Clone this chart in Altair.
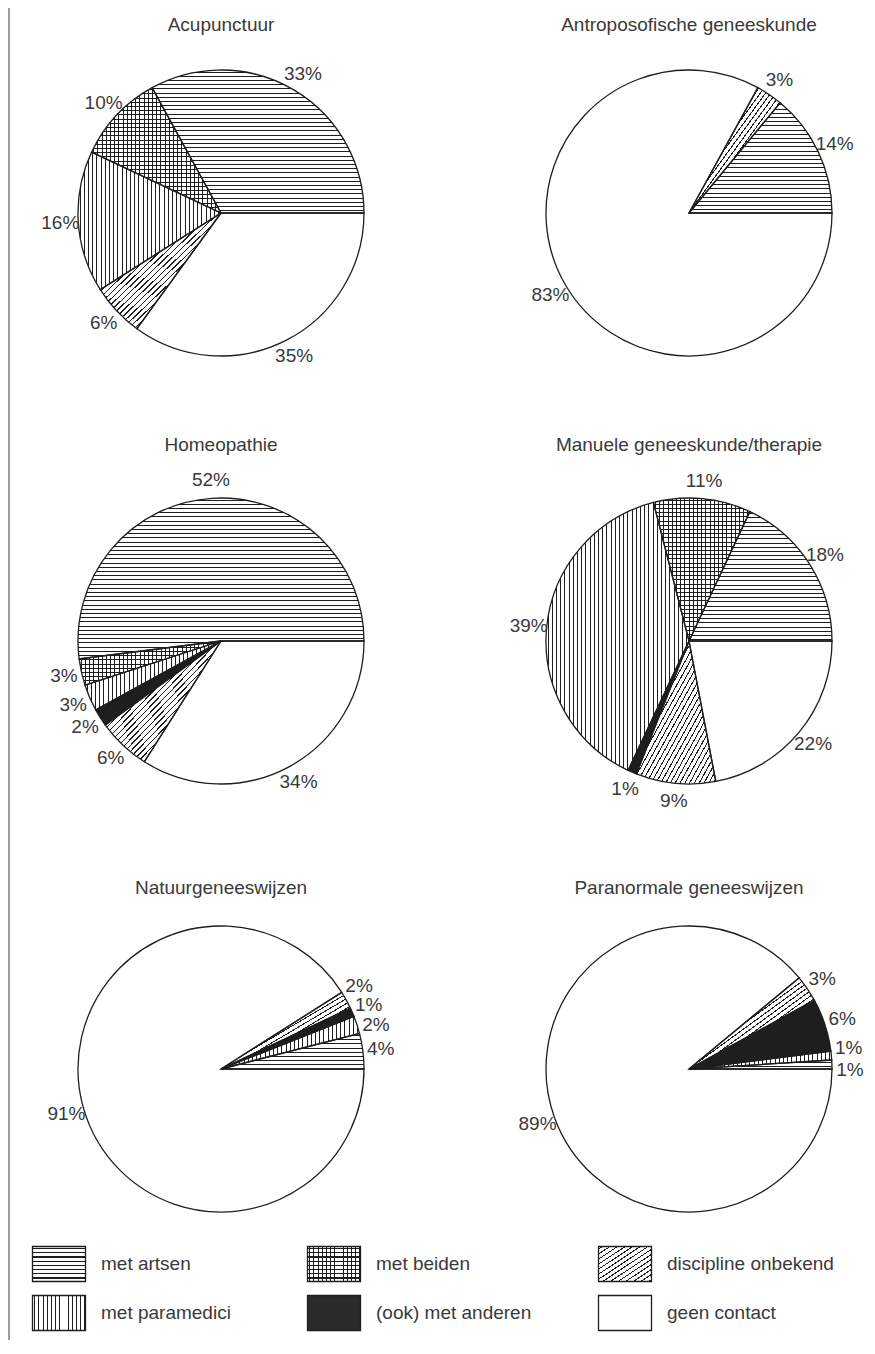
import math
import altair as alt
import pandas as pd

# ---------------- data ----------------
TITLES = ["Acupunctuur", "Antroposofische geneeskunde", "Homeopathie",
          "Manuele geneeskunde/therapie", "Natuurgeneeswijzen", "Paranormale geneeswijzen"]
CATEGORIES = ["met artsen", "met beiden", "met paramedici",
              "(ook) met anderen", "discipline onbekend", "geen contact"]
CAT_KEYS = ["artsen", "beiden", "paramedici", "anderen", "onbekend", "geen"]

ACUPUNCTUUR = [33, 10, 16, 0, 6, 35]
ANTROPOSOFISCHE = [14, 0, 0, 0, 3, 83]
HOMEOPATHIE = [52, 3, 3, 2, 6, 34]
MANUELE = [18, 11, 39, 1, 9, 22]
NATUUR = [4, 0, 2, 1, 2, 91]
PARANORMAAL = [1, 0, 1, 6, 3, 89]
ALL_VALUES = [ACUPUNCTUUR, ANTROPOSOFISCHE, HOMEOPATHIE, MANUELE, NATUUR, PARANORMAAL]

# grid cell of each pie and of each legend entry
GRID_COL = [0, 1, 0, 1, 0, 1]
GRID_ROW = [0, 0, 1, 1, 2, 2]
LEGEND_COL = [0, 1, 0, 1, 2, 2]
LEGEND_ROW = [0, 0, 1, 1, 0, 1]

# ---------------- style ----------------
FONT = "Liberation Sans"
TXT = "#3a3a3a"
INK = "#1e1e1e"
CLEAR = "rgba(255,255,255,0)"
R = 143
LABEL_R = 161
SPACING = 4.2
LW = 1.0
BOX_W, BOX_H = 53, 35
MIN_SEP = 2.1
W, H = 857, 1332

HATCH = {"h": ["artsen", "beiden"], "v": ["paramedici", "beiden"], "d": ["onbekend"]}


def stops(extent):
    extent = max(extent, 1.0)
    period = SPACING / extent
    half = (LW / extent) / 2
    out = [{"offset": 0, "color": CLEAR}]
    k = 0
    while True:
        c = (k + 0.5) * period
        a, b = c - half, c + half
        if a >= 1:
            break
        a = round(max(a, 0), 5)
        b = round(min(b, 1), 5)
        out += [{"offset": a, "color": CLEAR}, {"offset": a, "color": INK},
                {"offset": b, "color": INK}, {"offset": b, "color": CLEAR}]
        k += 1
    out.append({"offset": 1, "color": CLEAR})
    return out


def gradient(kind, w, h):
    if kind == "h":
        return {"gradient": "linear", "x1": 0, "y1": 0, "x2": 0, "y2": 1, "stops": stops(h)}
    if kind == "v":
        return {"gradient": "linear", "x1": 0, "y1": 0, "x2": 1, "y2": 0, "stops": stops(w)}
    ext = 2 * w * h / math.sqrt(w * w + h * h) if w > 0 and h > 0 else 1
    return {"gradient": "linear", "x1": 0, "y1": 0, "x2": 1, "y2": 1, "stops": stops(ext)}


def ang(p):
    return math.pi / 2 - 2 * math.pi * p / 100


def arc_bbox(p0, p1):
    t0, t1 = ang(p0), ang(p1)
    lo, hi = min(t0, t1), max(t0, t1)
    angles = [t0, t1]
    k = math.ceil(lo / (math.pi / 2))
    while k * math.pi / 2 <= hi:
        angles.append(k * math.pi / 2)
        k += 1
    xs = [0] + [R * math.sin(a) for a in angles]
    ys = [0] + [-R * math.cos(a) for a in angles]
    return max(xs) - min(xs), max(ys) - min(ys)


# ---------------- tables ----------------
rows = []
for i, vals in enumerate(ALL_VALUES):
    cum = 0
    pie_rows = []
    for j, v in enumerate(vals):
        if v == 0:
            continue
        pie_rows.append(dict(pie=TITLES[i], col=GRID_COL[i], row=GRID_ROW[i], key=CAT_KEYS[j],
                             sid=f"{i}-{j}", p0=cum, p1=cum + v, lab=cum + v / 2, label=f"{v}%"))
        cum += v
    labs = [r["lab"] for r in pie_rows]
    for _ in range(300):
        for k in range(len(labs) - 1):
            gap = labs[k + 1] - labs[k]
            if gap < MIN_SEP:
                d = (MIN_SEP - gap) / 2
                labs[k] -= d
                labs[k + 1] += d
    for r, l in zip(pie_rows, labs):
        r["lab"] = l
    rows += pie_rows
slices = pd.DataFrame(rows)

pies = pd.DataFrame({"title": TITLES, "col": GRID_COL, "row": GRID_ROW})
legend = pd.DataFrame({"cat": CATEGORIES, "key": CAT_KEYS, "lcol": LEGEND_COL, "lrow": LEGEND_ROW})

# ---------------- encodings ----------------
TH = alt.Scale(domain=[0, 100], range=[math.pi / 2, math.pi / 2 - 2 * math.pi])
X = alt.X("col:Q", scale=alt.Scale(domain=[0, 1], range=[213, 681]), axis=None)
Y = alt.Y("row:Q", scale=alt.Scale(domain=[0, 2], range=[205, 1061]), axis=None)
TY = alt.Y("row:Q", scale=alt.Scale(domain=[0, 1, 2], range=[17, 437, 880]), axis=None)
LX = alt.X("lcol:Q", scale=alt.Scale(domain=[0, 1, 2], range=[51, 326, 617]), axis=None)
LY = alt.Y("lrow:Q", scale=alt.Scale(domain=[0, 1], range=[1256, 1305]), axis=None)

pie_enc = dict(x=X, y=Y,
               theta=alt.Theta("p0:Q", scale=TH, stack=False),
               theta2=alt.Theta2("p1:Q"))

base_fill = alt.condition("datum.key === 'anderen'", alt.value(INK), alt.value("white"))

layers = []
layers.append(alt.Chart(slices).mark_arc(radius=R).encode(fill=base_fill, **pie_enc))

for kind, keys in HATCH.items():
    conds = []
    for r in rows:
        if r["key"] in keys:
            w, h = arc_bbox(r["p0"], r["p1"])
            conds.append({"test": f"datum.sid === '{r['sid']}'", "value": gradient(kind, w, h)})
    if conds:
        layers.append(
            alt.Chart(slices)
            .transform_filter(alt.FieldOneOfPredicate(field="key", oneOf=keys))
            .mark_arc(radius=R)
            .encode(fill={"condition": conds, "value": "transparent"}, **pie_enc)
        )

layers.append(alt.Chart(slices).mark_arc(radius=R, fill="transparent", stroke=INK, strokeWidth=1.3)
              .encode(**pie_enc))

layers.append(
    alt.Chart(slices).mark_text(radius=LABEL_R, font=FONT, fontSize=19, color=TXT,
                                align="center", baseline="middle")
    .encode(x=X, y=Y, theta=alt.Theta("lab:Q", scale=TH, stack=False), text="label:N")
)

layers.append(
    alt.Chart(pies).mark_text(font=FONT, fontSize=19, color=TXT,
                              align="center", baseline="middle")
    .encode(x=X, y=TY, text="title:N")
)

# ---------------- legend ----------------
leg_fill = alt.condition("datum.key === 'anderen'", alt.value("#2a2a2a"), alt.value("white"))
layers.append(alt.Chart(legend).mark_rect(width=BOX_W, height=BOX_H).encode(x=LX, y=LY, fill=leg_fill))
for kind, keys in HATCH.items():
    layers.append(
        alt.Chart(legend)
        .transform_filter(alt.FieldOneOfPredicate(field="key", oneOf=keys))
        .mark_rect(width=BOX_W, height=BOX_H, fill=gradient(kind, BOX_W, BOX_H))
        .encode(x=LX, y=LY)
    )
layers.append(alt.Chart(legend).mark_rect(width=BOX_W, height=BOX_H, fill="transparent",
                                          stroke=INK, strokeWidth=1.3).encode(x=LX, y=LY))
layers.append(
    alt.Chart(legend).mark_text(dx=42, font=FONT, fontSize=19, color=TXT,
                                align="left", baseline="middle")
    .encode(x=LX, y=LY, text="cat:N")
)

# page edge line
layers.append(alt.Chart(pd.DataFrame({"a": [0]})).mark_rule(color="#9c9c9c", strokeWidth=2)
              .encode(x=alt.value(1), y=alt.value(0), y2=alt.value(H)))

chart = (
    alt.layer(*layers)
    .resolve_scale(x="independent", y="independent")
    .properties(width=W, height=H, padding=0,
                autosize=alt.AutoSizeParams(type="none"), background="white")
    .configure_view(stroke=None)
)

chart.save("out.html", embed_options={"renderer": "svg", "actions": False})
